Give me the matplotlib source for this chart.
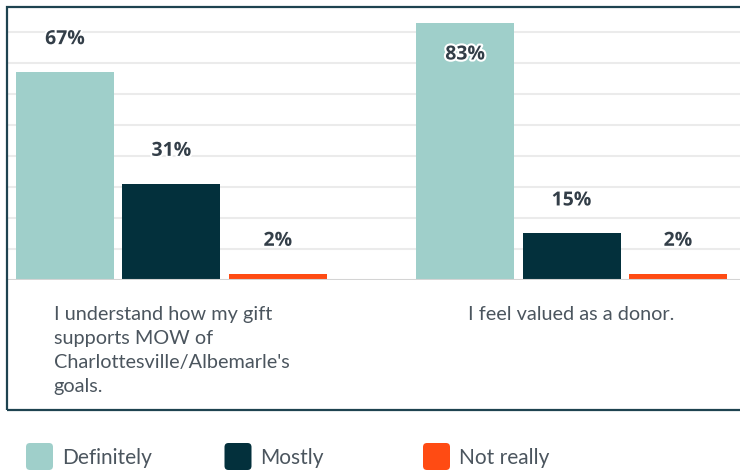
'''
plot.py

Grouped bar chart of donor survey answers.
'''

import matplotlib
matplotlib.use('Agg')
import matplotlib.pyplot as plt
from matplotlib.patches import Rectangle, FancyBboxPatch
import matplotlib.patheffects as pe
import numpy as np

# Data
questions = ["I understand how my gift\nsupports MOW of\nCharlottesville/Albemarle's\ngoals.",
             "I feel valued as a donor."]
answers = ['Definitely', 'Mostly', 'Not really']
definitely = [67, 83]
mostly = [31, 15]
not_really = [2, 2]

colors = ['#9fcfca', '#03303c', '#ff4b13']
label_color = '#333e48'
text_color = '#4b555e'
frame_color = '#1e4350'

W, H = 740, 471


def main():
    fig = plt.figure(figsize=(W / 100, H / 100), dpi=100)
    ax = fig.add_axes([7 / W, 191 / H, 733 / W, 273 / H])

    x = np.arange(len(questions))
    offset = 0.266
    width = 0.245
    series = [definitely, mostly, not_really]

    for i, (vals, color) in enumerate(zip(series, colors)):
        xs = x + (i - 1) * offset
        ax.bar(xs, vals, width, color=color, zorder=3)
        for xi, v in zip(xs, vals):
            # label above the bar, inside when it would not fit
            inside = v * 3.104 + 35 > 273
            dy = -32 if inside else 33
            ax.annotate(f'{v}%', xy=(xi, v), xytext=(0, dy * 0.72),
                        textcoords='offset points', ha='center', va='center',
                        fontsize=14, fontweight='bold', family='Open Sans',
                        color=label_color, zorder=5,
                        path_effects=[pe.withStroke(linewidth=3, foreground='white')])

    ax.set_xlim(-0.411, 1.421)
    ax.set_ylim(0, 88)
    ax.set_yticks(np.arange(10, 81, 10))
    ax.yaxis.grid(True, color='#ebebeb', linewidth=1.5, zorder=0)
    ax.axhline(0, color='#d4d4d4', linewidth=1.5, zorder=4)
    ax.tick_params(left=False, bottom=False, labelleft=False, labelbottom=False)
    for s in ax.spines.values():
        s.set_visible(False)

    # Category labels below the axis
    for xi, q in zip(x, questions):
        ax.annotate(q, xy=(xi, 0), xycoords=('data', 'axes fraction'),
                    xytext=(0, -26 * 0.72), textcoords='offset points',
                    ha='center', va='top', multialignment='left',
                    fontsize=14.3, family='Lato', color=text_color,
                    linespacing=1.5)

    # Outer frame (right side runs off the canvas)
    fig.patches.append(Rectangle((7 / W, (H - 410) / H), 760 / W, 403 / H,
                                 transform=fig.transFigure, fill=False,
                                 edgecolor=frame_color, linewidth=1.6))

    # Legend
    leg = fig.add_axes([0, 0, 1, 60 / H])
    leg.set_xlim(0, W)
    leg.set_ylim(0, 60)
    leg.axis('off')
    for i, (name, color) in enumerate(zip(answers, colors)):
        x0 = 26 + i * 198.5
        leg.add_patch(FancyBboxPatch((x0, 1), 27, 27,
                                     boxstyle='round,pad=0,rounding_size=4',
                                     facecolor=color, edgecolor='none'))
        leg.text(x0 + 36, 12.5, name, ha='left', va='center', fontsize=15,
                 family='Lato', color=text_color)

    fig.savefig('out.png', dpi=100)


if __name__ == '__main__':
    main()
